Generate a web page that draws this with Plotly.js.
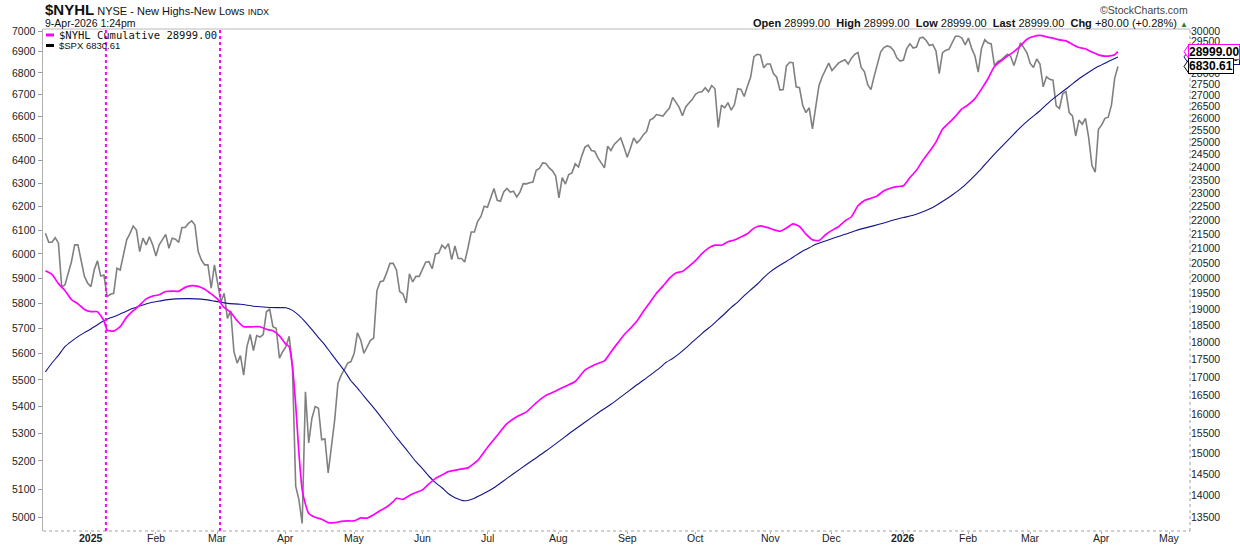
<!DOCTYPE html>
<html><head><meta charset="utf-8">
<script src="https://cdn.plot.ly/plotly-3.0.1.min.js"></script>
<style>html,body{margin:0;padding:0;background:#fff}#chart{width:1240px;height:546px}</style>
</head><body><div id="chart"></div>
<script>
// ---- S&P 500 daily close (left axis, log) ----
const spxDates = [
"2024-12-11","2024-12-12","2024-12-13","2024-12-16","2024-12-17","2024-12-18","2024-12-19","2024-12-20","2024-12-23","2024-12-24","2024-12-26","2024-12-27","2024-12-30","2024-12-31",
"2025-01-02","2025-01-03","2025-01-06","2025-01-07","2025-01-08","2025-01-10","2025-01-13","2025-01-14","2025-01-15","2025-01-16","2025-01-17","2025-01-21","2025-01-22","2025-01-23","2025-01-24","2025-01-27","2025-01-28","2025-01-29","2025-01-30","2025-01-31",
"2025-02-03","2025-02-04","2025-02-05","2025-02-06","2025-02-07","2025-02-10","2025-02-11","2025-02-12","2025-02-13","2025-02-14","2025-02-18","2025-02-19","2025-02-20","2025-02-21","2025-02-24","2025-02-25","2025-02-26","2025-02-27","2025-02-28",
"2025-03-03","2025-03-04","2025-03-05","2025-03-06","2025-03-07","2025-03-10","2025-03-11","2025-03-12","2025-03-13","2025-03-14","2025-03-17","2025-03-18","2025-03-19","2025-03-20","2025-03-21","2025-03-24","2025-03-25","2025-03-26","2025-03-27","2025-03-28","2025-03-31",
"2025-04-01","2025-04-02","2025-04-03","2025-04-04","2025-04-07","2025-04-08","2025-04-09","2025-04-10","2025-04-11","2025-04-14","2025-04-15","2025-04-16","2025-04-17","2025-04-21","2025-04-22","2025-04-23","2025-04-24","2025-04-25","2025-04-28","2025-04-29","2025-04-30",
"2025-05-01","2025-05-02","2025-05-05","2025-05-06","2025-05-07","2025-05-08","2025-05-09","2025-05-12","2025-05-13","2025-05-14","2025-05-15","2025-05-16","2025-05-19","2025-05-20","2025-05-21","2025-05-22","2025-05-23","2025-05-27","2025-05-28","2025-05-29","2025-05-30",
"2025-06-02","2025-06-03","2025-06-04","2025-06-05","2025-06-06","2025-06-09","2025-06-10","2025-06-11","2025-06-12","2025-06-13","2025-06-16","2025-06-17","2025-06-18","2025-06-20","2025-06-23","2025-06-24","2025-06-25","2025-06-26","2025-06-27","2025-06-30",
"2025-07-01","2025-07-02","2025-07-03","2025-07-07","2025-07-08","2025-07-09","2025-07-10","2025-07-11","2025-07-14","2025-07-15","2025-07-16","2025-07-17","2025-07-18","2025-07-21","2025-07-22","2025-07-23","2025-07-24","2025-07-25","2025-07-28","2025-07-29","2025-07-30","2025-07-31",
"2025-08-01","2025-08-04","2025-08-05","2025-08-06","2025-08-07","2025-08-08","2025-08-11","2025-08-12","2025-08-13","2025-08-14","2025-08-15","2025-08-18","2025-08-19","2025-08-20","2025-08-21","2025-08-22","2025-08-25","2025-08-26","2025-08-27","2025-08-28","2025-08-29",
"2025-09-02","2025-09-03","2025-09-04","2025-09-05","2025-09-08","2025-09-09","2025-09-10","2025-09-11","2025-09-12","2025-09-15","2025-09-16","2025-09-17","2025-09-18","2025-09-19","2025-09-22","2025-09-23","2025-09-24","2025-09-25","2025-09-26","2025-09-29","2025-09-30",
"2025-10-01","2025-10-02","2025-10-03","2025-10-06","2025-10-07","2025-10-08","2025-10-09","2025-10-10","2025-10-13","2025-10-14","2025-10-15","2025-10-16","2025-10-17","2025-10-20","2025-10-21","2025-10-22","2025-10-23","2025-10-24","2025-10-27","2025-10-28","2025-10-29","2025-10-30","2025-10-31",
"2025-11-03","2025-11-04","2025-11-05","2025-11-06","2025-11-07","2025-11-10","2025-11-11","2025-11-12","2025-11-13","2025-11-14","2025-11-17","2025-11-18","2025-11-19","2025-11-20","2025-11-21","2025-11-24","2025-11-25","2025-11-26","2025-11-28",
"2025-12-01","2025-12-02","2025-12-03","2025-12-04","2025-12-05","2025-12-08","2025-12-09","2025-12-10","2025-12-11","2025-12-12","2025-12-15","2025-12-16","2025-12-17","2025-12-18","2025-12-19","2025-12-22","2025-12-23","2025-12-24","2025-12-26","2025-12-29","2025-12-30","2025-12-31",
"2026-01-02","2026-01-05","2026-01-06","2026-01-07","2026-01-08","2026-01-09","2026-01-12","2026-01-13","2026-01-14","2026-01-15","2026-01-16","2026-01-20","2026-01-21","2026-01-22","2026-01-23","2026-01-26","2026-01-27","2026-01-28","2026-01-29","2026-01-30",
"2026-02-02","2026-02-03","2026-02-04","2026-02-05","2026-02-06","2026-02-09","2026-02-10","2026-02-11","2026-02-12","2026-02-13","2026-02-17","2026-02-18","2026-02-19","2026-02-20","2026-02-23","2026-02-24","2026-02-25","2026-02-26","2026-02-27",
"2026-03-02","2026-03-03","2026-03-04","2026-03-05","2026-03-06","2026-03-09","2026-03-10","2026-03-11","2026-03-12","2026-03-13","2026-03-16","2026-03-17","2026-03-18","2026-03-19","2026-03-20","2026-03-23","2026-03-24","2026-03-25","2026-03-26","2026-03-27","2026-03-30","2026-03-31",
"2026-04-01","2026-04-02","2026-04-06","2026-04-07","2026-04-08","2026-04-09"];
const spxClose = [
6087,6049,6049,6068,6045,5866,5873,5921,5968,6038,6038,5972,5907,5880,
5866,5934,5972,5909,5913,5826,5835,5839,5941,5934,6003,6059,6085,6117,6100,6010,6066,6038,6072,6038,
5992,6038,6060,6082,6024,6066,6062,6048,6111,6111,6128,6139,6121,6010,5975,5955,5955,5860,5955,
5870,5805,5839,5739,5769,5608,5564,5593,5518,5628,5675,5612,5671,5665,5675,5765,5775,5706,5700,5583,5608,
5628,5668,5550,5110,5062,4980,5455,5265,5356,5399,5393,5277,5280,5157,5250,5350,5486,5518,5540,5564,5570,
5602,5682,5654,5602,5628,5652,5661,5850,5886,5890,5923,5961,5961,5934,5846,5837,5800,5918,5885,5908,5908,
5935,5966,5968,5939,6000,6004,6037,6023,6043,5977,6033,5981,5981,5967,6025,6092,6092,6137,6158,6201,
6197,6237,6278,6227,6223,6263,6278,6262,6266,6241,6262,6299,6298,6303,6306,6357,6366,6390,6387,6368,6355,6332,
6237,6325,6297,6339,6346,6386,6372,6420,6460,6469,6445,6442,6412,6390,6368,6464,6445,6472,6487,6501,6460,
6415,6455,6501,6479,6494,6516,6531,6582,6590,6607,6604,6600,6620,6637,6686,6660,6640,6602,6642,6660,6676,
6700,6710,6712,6731,6712,6741,6726,6549,6650,6638,6662,6627,6653,6726,6723,6690,6738,6782,6877,6888,6885,6824,6842,
6842,6797,6780,6720,6722,6833,6850,6848,6735,6731,6650,6616,6638,6542,6640,6740,6782,6815,6846,
6811,6831,6846,6855,6862,6842,6870,6888,6897,6826,6805,6745,6722,6785,6846,6900,6920,6928,6923,6905,6870,6856,
6861,6915,6938,6918,6923,6965,6970,6954,6930,6935,6905,6797,6895,6908,6912,6946,6975,6975,6966,6933,
6966,6915,6880,6804,6915,6958,6943,6938,6835,6853,6861,6875,6888,6878,6835,6885,6943,6920,6895,
6845,6826,6866,6842,6735,6782,6770,6766,6647,6635,6703,6713,6616,6601,6510,6582,6563,6590,6501,6378,6349,6540,
6560,6590,6595,6650,6776,6830.61];

// ---- $NYHL Cumulative (right axis, log) ----
const nyhlDates = [
"2024-12-11","2024-12-13","2024-12-17","2024-12-19","2024-12-23","2024-12-26","2024-12-30",
"2025-01-02","2025-01-06","2025-01-08","2025-01-10","2025-01-14","2025-01-16","2025-01-21","2025-01-23","2025-01-27","2025-01-29","2025-01-31",
"2025-02-04","2025-02-06","2025-02-10","2025-02-12","2025-02-14","2025-02-19","2025-02-21","2025-02-25","2025-02-27",
"2025-03-03","2025-03-05","2025-03-07","2025-03-11","2025-03-13","2025-03-18","2025-03-20","2025-03-24","2025-03-26","2025-03-28",
"2025-04-01","2025-04-02","2025-04-03","2025-04-04","2025-04-07","2025-04-08","2025-04-09","2025-04-10","2025-04-14","2025-04-16","2025-04-21","2025-04-23","2025-04-25","2025-04-29",
"2025-05-01","2025-05-05","2025-05-07","2025-05-09","2025-05-13","2025-05-15","2025-05-19","2025-05-20","2025-05-22","2025-05-27","2025-05-29",
"2025-06-02","2025-06-04","2025-06-06","2025-06-10","2025-06-12","2025-06-17","2025-06-23","2025-06-26",
"2025-07-01","2025-07-07","2025-07-10","2025-07-15","2025-07-18","2025-07-23","2025-07-28","2025-07-31",
"2025-08-05","2025-08-08","2025-08-13","2025-08-18","2025-08-21","2025-08-25","2025-08-27","2025-08-29",
"2025-09-03","2025-09-05","2025-09-09","2025-09-11","2025-09-15","2025-09-17","2025-09-19","2025-09-23","2025-09-25","2025-09-29",
"2025-10-01","2025-10-03","2025-10-07","2025-10-09","2025-10-13","2025-10-15","2025-10-17","2025-10-21","2025-10-23","2025-10-27","2025-10-29","2025-10-31",
"2025-11-04","2025-11-06","2025-11-10","2025-11-12","2025-11-14","2025-11-18","2025-11-20","2025-11-24","2025-11-26",
"2025-12-01","2025-12-03","2025-12-05","2025-12-09","2025-12-11","2025-12-15","2025-12-17","2025-12-19","2025-12-23","2025-12-26","2025-12-30",
"2026-01-02","2026-01-06","2026-01-08","2026-01-12","2026-01-14","2026-01-16","2026-01-21","2026-01-23","2026-01-27","2026-01-29",
"2026-02-02","2026-02-04","2026-02-06","2026-02-10","2026-02-12","2026-02-17","2026-02-19","2026-02-23","2026-02-25","2026-02-27",
"2026-03-03","2026-03-05","2026-03-09","2026-03-11","2026-03-13","2026-03-17","2026-03-19","2026-03-23","2026-03-25","2026-03-27","2026-03-31",
"2026-04-02","2026-04-07","2026-04-08","2026-04-09"];
const nyhlCumulative = [
20240,20120,19820,19600,19310,19175,19000,
18930,18930,18650,18365,18335,18470,18760,18960,19130,19330,19420,
19460,19565,19580,19570,19700,19755,19730,19640,19490,
19320,19060,18910,18650,18467,18467,18467,18390,18345,18190,
17945,17870,17300,16250,15000,14128,13800,13595,13510,13465,13391,13391,13418,13428,
13430,13495,13490,13565,13660,13740,13860,13937,13914,14000,14070,
14130,14270,14400,14480,14560,14610,14650,14830,
15150,15450,15750,15930,16060,16300,16500,16620,
16750,16880,17200,17350,17460,17720,17970,18220,
18420,18640,18940,19220,19510,19740,19990,20170,20220,20390,
20580,20820,21010,21115,21108,21230,21292,21400,21510,21710,21790,21735,
21654,21600,21714,21860,21770,21500,21300,21270,21476,
21630,21760,21970,22120,22520,22720,22800,22898,23080,23180,23237,
23270,23590,23870,24270,24620,25000,25530,25800,26082,26400,
26590,26850,27270,27740,28300,28560,28790,29000,29280,29600,
29730,29785,29715,29650,29570,29520,29350,29200,29140,28980,28850,
28790,28815,28855,28999.00];

// ---- moving average of $NYHL Cumulative (right axis, log) ----
const maDates = [
"2024-12-11","2024-12-13","2024-12-17","2024-12-19","2024-12-23","2024-12-26","2024-12-30",
"2025-01-02","2025-01-06","2025-01-08","2025-01-13","2025-01-15","2025-01-17","2025-01-22","2025-01-24","2025-01-28","2025-01-30",
"2025-02-03","2025-02-06","2025-02-11","2025-02-18","2025-02-24","2025-02-28",
"2025-03-06","2025-03-12","2025-03-18","2025-03-24","2025-03-28",
"2025-04-01","2025-04-03","2025-04-07","2025-04-09","2025-04-11","2025-04-15","2025-04-17","2025-04-22","2025-04-24","2025-04-28","2025-04-30",
"2025-05-02","2025-05-06","2025-05-08","2025-05-12","2025-05-14","2025-05-16","2025-05-20","2025-05-22","2025-05-27","2025-05-29",
"2025-06-02","2025-06-04","2025-06-06","2025-06-10","2025-06-12","2025-06-16","2025-06-20","2025-06-25","2025-06-30",
"2025-07-03","2025-07-10","2025-07-16","2025-07-22","2025-07-28",
"2025-08-01","2025-08-07","2025-08-13","2025-08-19","2025-08-25","2025-08-29",
"2025-09-05","2025-09-11","2025-09-16","2025-09-18","2025-09-22","2025-09-24","2025-09-26","2025-09-30",
"2025-10-02","2025-10-06","2025-10-08","2025-10-10","2025-10-14","2025-10-16","2025-10-20","2025-10-22","2025-10-24","2025-10-28","2025-10-30",
"2025-11-03","2025-11-05","2025-11-07","2025-11-11","2025-11-13","2025-11-17","2025-11-19","2025-11-21","2025-11-26",
"2025-12-02","2025-12-05","2025-12-10","2025-12-15","2025-12-18","2025-12-23","2025-12-29",
"2026-01-02","2026-01-07","2026-01-12","2026-01-15","2026-01-21","2026-01-26","2026-01-29",
"2026-02-03","2026-02-06","2026-02-11","2026-02-17","2026-02-20","2026-02-25",
"2026-03-02","2026-03-05","2026-03-10","2026-03-13","2026-03-18","2026-03-23","2026-03-26","2026-03-31",
"2026-04-06","2026-04-09"];
const nyhlMA = [
17150,17400,17620,17872,18030,18170,18290,
18400,18530,18650,18740,18810,18900,19000,19070,19140,19200,
19240,19300,19330,19339,19322,19260,
19190,19160,19100,19065,19054,
19050,18970,18815,18610,18380,18140,17920,17665,17420,17180,16900,
16700,16480,16270,16060,15840,15620,15400,15200,15000,14800,
14630,14450,14300,14180,14040,13950,13880,13940,14050,
14180,14400,14620,14840,15060,
15300,15550,15790,16030,16260,16520,
16790,17050,17260,17420,17530,17670,17830,18005,
18175,18345,18500,18685,18865,19065,19230,19435,19620,19800,20015,
20205,20360,20495,20625,20770,20910,21020,21140,21260,
21380,21490,21610,21710,21800,21895,22000,
22090,22175,22300,22455,22680,22920,23200,
23550,23940,24370,24790,25200,25610,
25980,26320,26720,27060,27390,27740,28040,28310,
28530,28751.30];

// ---- axis ticks / labels ----
const monthTickDates = ["2025-01-02","2025-02-03","2025-03-03","2025-04-01","2025-05-01","2025-06-02","2025-07-01","2025-08-01","2025-09-02","2025-10-01","2025-11-03","2025-12-01","2026-01-02","2026-02-02","2026-03-02","2026-04-01","2026-05-01"];
const monthTickLabels = ["<b>2025</b>","Feb","Mar","Apr","May","Jun","Jul","Aug","Sep","Oct","Nov","Dec","<b>2026</b>","Feb","Mar","Apr","May"];
const leftTicks = [5000,5100,5200,5300,5400,5500,5600,5700,5800,5900,6000,6100,6200,6300,6400,6500,6600,6700,6800,6900,7000];
const rightTicks = [13500,14000,14500,15000,15500,16000,16500,17000,17500,18000,18500,19000,19500,20000,20500,21000,21500,22000,22500,23000,23500,24000,24500,25000,25500,26000,26500,27000,27500,28000,28500,29000,29500,30000];
const marketHolidays = ["2024-12-25","2025-01-01","2025-01-09","2025-01-20","2025-02-17","2025-04-18","2025-05-26","2025-06-19","2025-07-04","2025-09-01","2025-11-27","2025-12-25","2026-01-01","2026-01-19","2026-02-16","2026-04-03"];
const eventLineDates = ["2025-01-08 14:24","2025-03-03 16:48"];

const lastNyhl = "28999.00", lastSpx = "6830.61", lastMA = "28751.30";

const traces = [
  {x: spxDates, y: spxClose, type:'scatter', mode:'lines', yaxis:'y',
   line:{color:'#808080', width:1.6}, hoverinfo:'skip'},
  {x: maDates, y: nyhlMA, type:'scatter', mode:'lines', yaxis:'y2',
   line:{color:'#141489', width:1.1, shape:'spline', smoothing:0.6}, hoverinfo:'skip'},
  {x: nyhlDates, y: nyhlCumulative, type:'scatter', mode:'lines', yaxis:'y2',
   line:{color:'#ff00ff', width:1.7, shape:'spline', smoothing:0.5}, hoverinfo:'skip'}
];

const W = 1240, H = 546, L = 43, R = 50, T = 29, B = 15;
const pw = W - L - R, ph = H - T - B;
const px = v => (v - L) / pw;         // pixel x -> paper
const py = v => (H - B - v) / ph;     // pixel y -> paper

// pixel row of a value on the right (y2) and left (y) log axes, for the tag pointers
const y2Range = [4.120857, 4.478546], y1Range = [3.694977, 3.845699];
const rowY2 = v => T + (y2Range[1] - Math.log10(v)) / (y2Range[1] - y2Range[0]) * ph;
const rowY1 = v => T + (y1Range[1] - Math.log10(v)) / (y1Range[1] - y1Range[0]) * ph;
const pointer = (row, color) => ({type:'path', xref:'paper', yref:'paper', layer:'above',
  path:`M ${px(1188.5)},${py(row-6.5)} L ${px(1184)},${py(row)} L ${px(1188.5)},${py(row+6.5)} Z`,
  fillcolor:'#fff', line:{color:color, width:1}});

const shapes = [
  {type:'line', xref:'paper', yref:'paper', x0:0, x1:1, y0:1, y1:1, line:{color:'#b8b8b8', width:1}},
  {type:'line', xref:'paper', yref:'paper', x0:0, x1:1, y0:0, y1:0, line:{color:'#a0a0a0', width:1, dash:'dot'}},
  {type:'line', xref:'paper', yref:'paper', x0:1, x1:1, y0:0, y1:1, line:{color:'#a0a0a0', width:1, dash:'dot'}},
  {type:'line', xref:'paper', yref:'paper', x0:px(46), x1:px(54), y0:py(35), y1:py(35), line:{color:'#ff00ff', width:3}},
  {type:'line', xref:'paper', yref:'paper', x0:px(46), x1:px(54), y0:py(45.5), y1:py(45.5), line:{color:'#000', width:3}},
  pointer(rowY2(parseFloat(lastMA)), '#141489'),
  pointer(rowY2(parseFloat(lastNyhl)), '#ff00ff'),
  pointer(rowY1(parseFloat(lastSpx)), '#000')
];
eventLineDates.forEach(d => shapes.push({type:'line', xref:'x', yref:'paper', x0:d, x1:d, y0:0, y1:1,
  line:{color:'#ff00ff', width:2, dash:'dot'}}));

const F = '"Liberation Sans", Arial, sans-serif';
const annotations = [
  {xref:'paper', yref:'paper', x:0, y:py(9), xanchor:'left', yanchor:'middle', showarrow:false,
   text:"<span style='font-family:\"Liberation Sans Narrow\",\"Liberation Sans\";font-size:15px'><b>$NYHL</b></span> NYSE - New Highs-New Lows <span style='font-size:9px'>INDX</span>",
   font:{family:F, size:11, color:'#111'}},
  {xref:'paper', yref:'paper', x:0, y:py(23), xanchor:'left', yanchor:'middle', showarrow:false,
   text:'9-Apr-2026 1:24pm', font:{family:F, size:10.5, color:'#111'}},
  {xref:'paper', yref:'paper', x:1, y:py(9.5), xanchor:'right', yanchor:'middle', showarrow:false,
   text:'\u00a9StockCharts.com', font:{family:F, size:10.5, color:'#444'}},
  {xref:'paper', yref:'paper', x:1, y:py(22.5), xanchor:'right', yanchor:'middle', showarrow:false,
   text:"<b>Open</b> 28999.00  <b>High</b> 28999.00  <b>Low</b> 28999.00  <b>Last</b> 28999.00  <b>Chg</b> +80.00 (+0.28%) <span style='color:#2e7d32;font-size:8px'>\u25B2</span>",
   font:{family:F, size:11, color:'#111'}},
  {xref:'paper', yref:'paper', x:px(57), y:py(35), xanchor:'left', yanchor:'middle', showarrow:false,
   text:'$NYHL Cumulative ' + lastNyhl, font:{family:'"DejaVu Sans Mono", monospace', size:10.5, color:'#111'}},
  {xref:'paper', yref:'paper', x:px(57), y:py(45.5), xanchor:'left', yanchor:'middle', showarrow:false,
   text:'$SPX ' + lastSpx, font:{family:F, size:9.5, color:'#111'}},
  // right-edge value tags (blue first so it sits underneath)
  {xref:'paper', yref:'y2', x:1, xanchor:'left', xshift:-2, y:Math.log10(parseFloat(lastMA)), yanchor:'middle', showarrow:false,
   text:'<b>'+lastMA+'</b>', font:{family:F, size:12, color:'#000'}, bgcolor:'#fff', bordercolor:'#141489', borderwidth:1, borderpad:0},
  {xref:'paper', yref:'y2', x:1, xanchor:'left', xshift:-2, y:Math.log10(parseFloat(lastNyhl)), yanchor:'middle', showarrow:false,
   text:'<b>'+lastNyhl+'</b>', font:{family:F, size:12, color:'#000'}, bgcolor:'#fff', bordercolor:'#ff00ff', borderwidth:1, borderpad:0},
  {xref:'paper', yref:'y', x:1, xanchor:'left', xshift:-2, y:Math.log10(parseFloat(lastSpx)), yanchor:'middle', showarrow:false,
   text:'<b>'+lastSpx+'</b>', font:{family:F, size:12, color:'#000'}, bgcolor:'#fff', bordercolor:'#000', borderwidth:1, borderpad:0}
];
// month labels just below the plot (drawn as annotations so they sit close to the axis)
monthTickDates.forEach((d, i) => annotations.push({xref:'x', yref:'paper', x:d, y:py(537.5),
  xanchor:'center', yanchor:'middle', showarrow:false, text:monthTickLabels[i],
  font:{family:F, size:10.5, color:'#222'}}));

const layout = {
  width:W, height:H, margin:{l:L, r:R, t:T, b:B, pad:0},
  paper_bgcolor:'#fff', plot_bgcolor:'#fff', showlegend:false,
  font:{family:F, size:10.5, color:'#222'},
  xaxis:{type:'date', range:['2024-12-10 06:00','2026-05-11 04:00'],
    rangebreaks:[{bounds:['sat','mon']},{values:marketHolidays}],
    tickmode:'array', tickvals:monthTickDates, showticklabels:false,
    ticks:'outside', ticklen:2, tickcolor:'#aaa', showgrid:false, zeroline:false, showline:false,
    fixedrange:true},
  yaxis:{type:'log', range:y1Range, tickmode:'array', tickvals:leftTicks, ticktext:leftTicks.map(String),
    ticks:'outside', ticklen:4, tickcolor:'#999', showline:true, linecolor:'#b0b0b0', linewidth:1.5,
    showgrid:false, zeroline:false, tickfont:{family:F, size:10.5, color:'#222'}, fixedrange:true},
  yaxis2:{type:'log', overlaying:'y', side:'right', range:y2Range, tickmode:'array',
    tickvals:rightTicks, ticktext:rightTicks.map(String), ticks:'', showline:false, showgrid:false, zeroline:false,
    tickfont:{family:F, size:10.5, color:'#222'}, fixedrange:true},
  shapes:shapes, annotations:annotations
};

Plotly.newPlot('chart', traces, layout, {displayModeBar:false, staticPlot:true});
</script>
</body></html>
